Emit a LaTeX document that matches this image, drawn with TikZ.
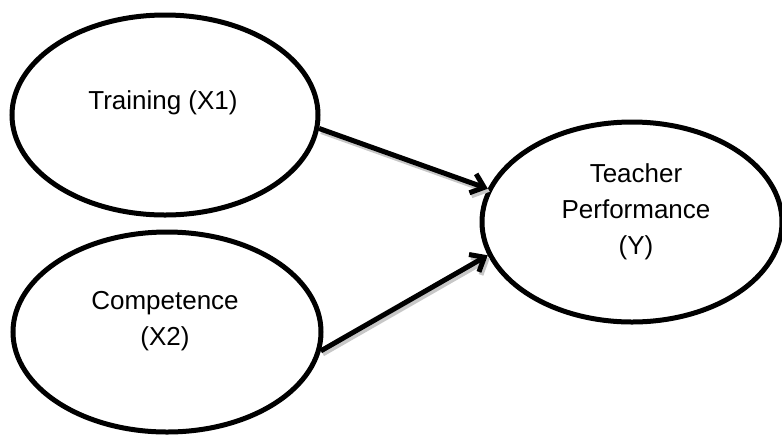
\documentclass[tikz,border=0pt]{standalone}
\usepackage{fontspec}
\setmainfont{Liberation Sans}
\usetikzlibrary{arrows.meta,shapes.geometric}
\begin{document}
\begin{tikzpicture}[x=0.5pt,y=-0.5pt,
  construct/.style={draw,ellipse,line width=2.5pt,minimum height=100pt,inner sep=0pt},
  varname/.style={font=\fontsize{13}{18}\selectfont,align=center},
  effect/.style={line width=2.5pt,-{Straight Barb[length=6pt,width=10pt]}},
  effect shade/.style={effect,black!22,transform canvas={shift={(1pt,-1.5pt)}}}]
\useasboundingbox (0,0) rectangle (782,435);
% Latent variables
\foreach \n/\x/\y/\w in {train/165/115/153,comp/167/332/154,perf/632/222/150}
  {\node[construct,minimum width=\w pt] (\n) at (\x,\y) {};}
\node[varname] (trainlbl) at (163,103) {Training (X1)};
\node[varname] (complbl) at (165,321) {Competence\\(X2)};
\node[varname] (perflbl) at (636,212) {Teacher\\Performance\\(Y)};
% Paths X1 -> Y and X2 -> Y (soft shadow first)
\draw[effect shade] (train.-5.6) -- (perf.167.3);
\draw[effect shade] (comp.-7.5) -- (perf.193.1);
\draw[effect] (train.-5.6) -- (perf.167.3);
\draw[effect] (comp.-7.5) -- (perf.193.1);
\end{tikzpicture}
\end{document}
